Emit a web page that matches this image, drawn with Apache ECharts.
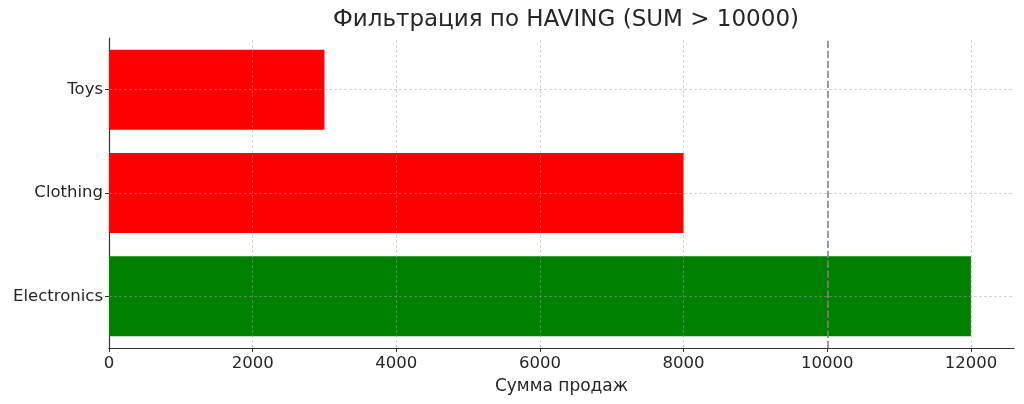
<!DOCTYPE html>
<html>
<head>
<meta charset="utf-8">
<script src="https://cdn.jsdelivr.net/npm/echarts@6/dist/echarts.min.js"></script>
<style>html,body{margin:0;padding:0;background:#fff;}#c{width:1024px;height:404px;}</style>
</head>
<body>
<div id="c"></div>
<script>
const categories = ['Electronics', 'Clothing', 'Toys'];
const sales = [12000, 8000, 3000];
const threshold = 10000;
const xTicks = [0, 2000, 4000, 6000, 8000, 10000, 12000];
const titleText = 'Фильтрация по HAVING (SUM > 10000)';
const xName = 'Сумма продаж';

const FONT = 'DejaVu Sans';
const TXT = '#262626';
const gridLine = { color: 'rgba(165,165,165,0.6)', width: 0.8, type: [3, 2] };

const chart = echarts.init(document.getElementById('c'), null, { renderer: 'canvas' });
chart.setOption({
  animation: false,
  backgroundColor: '#fff',
  title: {
    text: titleText,
    left: 561,
    top: 4,
    textAlign: 'center',
    textStyle: { fontFamily: FONT, fontSize: 23, fontWeight: 'normal', color: TXT }
  },
  grid: { left: 109, right: 10, top: 38, bottom: 56, containLabel: false },
  xAxis: {
    type: 'value',
    min: 0,
    max: 12600,
    interval: 2000,
    name: xName,
    nameLocation: 'middle',
    nameGap: 30,
    nameTextStyle: { fontFamily: FONT, fontSize: 17, color: TXT },
    axisLine: { show: true, lineStyle: { color: '#333', width: 1.2 } },
    axisTick: { show: true, length: 4, lineStyle: { color: '#333' }, customValues: xTicks },
    axisLabel: { fontFamily: FONT, fontSize: 16.5, color: TXT, margin: 7, customValues: xTicks, formatter: v => String(v) },
    splitLine: { show: false }
  },
  yAxis: {
    type: 'category',
    data: categories,
    axisLine: { show: true, lineStyle: { color: '#333', width: 1.2 } },
    axisTick: { show: true, length: 4, alignWithLabel: true, lineStyle: { color: '#333' } },
    axisLabel: { fontFamily: FONT, fontSize: 16.5, color: TXT, margin: 6 },
    splitLine: { show: false }
  },
  series: [{
    type: 'bar',
    barWidth: 80,
    data: sales.map(v => ({ value: v, itemStyle: { color: v > threshold ? '#008000' : '#ff0000' } })),
    markLine: {
      silent: true,
      symbol: ['none', 'none'],
      label: { show: false },
      animation: false,
      data: [
        ...xTicks.filter(v => v > 0).map(v => ({ xAxis: v, lineStyle: gridLine })),
        ...categories.map(c => ({ yAxis: c, lineStyle: gridLine })),
        { xAxis: threshold, lineStyle: { color: '#808080', width: 1.5, type: [7, 3] } }
      ]
    }
  }]
});
</script>
</body>
</html>
